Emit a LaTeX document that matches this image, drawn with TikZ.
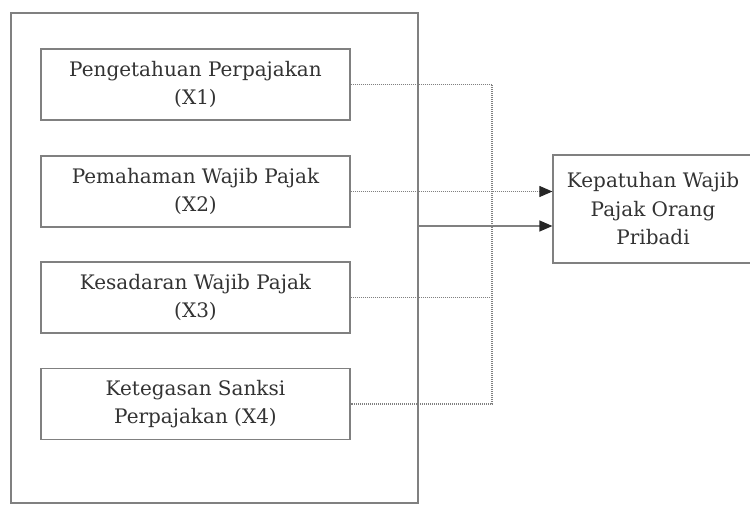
\documentclass[tikz,border=0pt]{standalone}
\usepackage{fontspec}
\setmainfont{DejaVu Serif}
\usetikzlibrary{arrows.meta}
\definecolor{linegray}{gray}{0.5}
\definecolor{textgray}{gray}{0.2}
\tikzset{
  box/.style={draw=linegray, line width=1.2pt, text=textgray, align=center,
    font=\fontsize{20}{28.5}\selectfont, inner sep=0pt},
  varbox/.style={box, minimum width=309pt, minimum height=71pt},
  dotline/.style={draw=linegray, line width=1.1pt, dash pattern=on 1pt off 1pt},
  solidline/.style={draw=linegray, line width=1.2pt},
  tip/.style={-{Triangle[length=13pt,width=11pt,fill=black!85,color=black!85]}}
}
\begin{document}
\begin{tikzpicture}[x=1pt,y=-1pt]
\useasboundingbox (0,0) rectangle (750,506);
\node[box, minimum width=407pt, minimum height=490pt] (outer) at (214.5,258) {};
\node[varbox] (b1) at (195.5,84.5) {Pengetahuan Perpajakan\\(X1)};
\node[varbox] (b2) at (195.5,191.5) {Pemahaman Wajib Pajak\\(X2)};
\node[varbox] (b3) at (195.5,297.5) {Kesadaran Wajib Pajak\\(X3)};
\node[varbox] (b4) at (195.5,404) {Ketegasan Sanksi\\Perpajakan (X4)};
\node[box, minimum width=200pt, minimum height=108pt] (target) at (653,209) {Kepatuhan Wajib\\Pajak Orang\\Pribadi};
\coordinate (bus) at (492,0);
\coordinate (s) at (0,226);
\draw[dotline] (b1.east) -- (b1.east -| bus) -- (b4.east -| bus) -- (b4.east);
\draw[dotline] (b3.east) -- (b3.east -| bus);
\draw[dotline, tip] (b2.east) -- (b2.east -| target.west);
\draw[solidline, tip] (outer.east |- s) -- (target.west |- s);
\end{tikzpicture}
\end{document}
